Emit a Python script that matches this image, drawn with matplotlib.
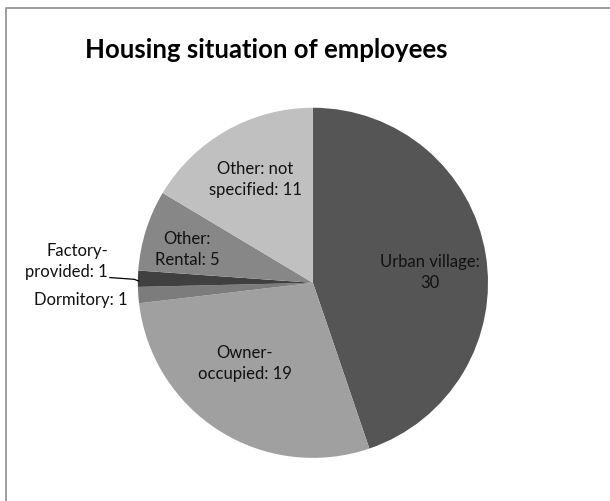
import matplotlib.pyplot as plt
from matplotlib.lines import Line2D

# Housing situation counts, clockwise from 12 o'clock
categories = ['Urban village:\n', 'Owner-\noccupied: ', 'Dormitory: ', 'Factory-\nprovided: ',
              'Other:\nRental: ', 'Other: not\nspecified: ']
counts = [30, 19, 1, 1, 5, 11]
colors = ['#555555', '#a0a0a0', '#7c7c7c', '#404040', '#878787', '#c0c0c0']

plt.rcParams['font.family'] = ['Lato', 'DejaVu Sans']

fig = plt.figure(figsize=(6.1, 5.01), dpi=100)
ax = fig.add_axes([0.226, 0.086, 0.574, 0.699])

wedges, _ = ax.pie(counts, colors=colors, startangle=90, counterclock=False,
                   radius=1, wedgeprops=dict(linewidth=0))
ax.set_xlim(-1, 1)
ax.set_ylim(-1, 1)
ax.set_aspect('equal')

# label placement (data coords) and alignment for each slice
label_pos = [(0.67, 0.06, 'center'), (-0.39, -0.46, 'center'), (-1.06, -0.10, 'right'),
             (-1.17, 0.12, 'right'), (-0.72, 0.19, 'center'), (-0.33, 0.59, 'center')]
for name, n, (x, y, ha) in zip(categories, counts, label_pos):
    ax.text(x, y, f'{name}{n}', ha=ha, va='center', fontsize=12, color='#111111',
            linespacing=1.4)

# leader line for the thin factory slice
ax.plot([-1.16, -1.02, -0.995], [0.03, 0.02, 0.01], color='black', lw=0.9,
        clip_on=False)

fig.text(0.437, 0.900, 'Housing situation of employees', ha='center', va='center',
         fontsize=18.5, fontweight='bold', color='black')

# chart area border (top and left)
fig.add_artist(Line2D([0.010, 0.010, 1.0], [0.0, 0.984, 0.984],
                      transform=fig.transFigure, color='#8c8c8c', lw=1.2))

fig.savefig('out.png', dpi=100, facecolor='white')
